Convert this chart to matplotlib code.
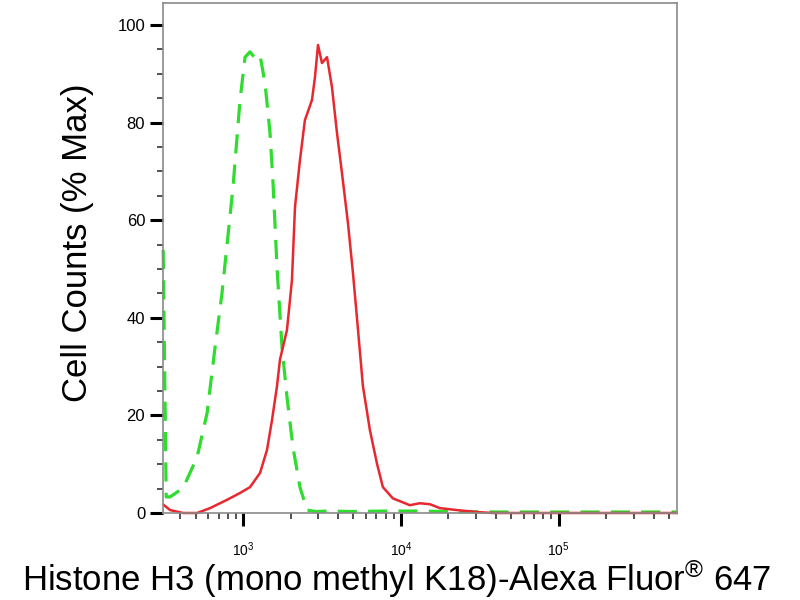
import matplotlib.pyplot as plt
import numpy as np
from matplotlib.ticker import FixedLocator, MultipleLocator, NullFormatter

plt.rcParams['font.family'] = ['Liberation Sans', 'DejaVu Sans']

# isotype control (green, dashed)
ctrl_x = [312, 326, 345, 417, 512, 592, 665, 736, 792, 864, 957, 1030, 1107,
          1191, 1281, 1378, 1482, 1549, 1641, 1765, 1898, 2071, 2294, 2541,
          2900, 3500, 5000, 8000, 12000, 20000, 40000, 100000, 300000, 560000]
ctrl_y = [53.9, 3.3, 3.3, 5.1, 11.5, 20.5, 34.0, 45.1, 55.0, 66.8, 84.6, 93.4,
          94.5, 93.2, 93.8, 88.1, 77.9, 67.6, 50.4, 34.0, 23.8, 13.5, 5.3, 0.6,
          0.3, 0.4, 0.3, 0.4, 0.4, 0.3, 0.2, 0.2, 0.2, 0.2]

# antibody sample (red, solid)
samp_x = [316, 345, 417, 512, 618, 792, 957, 1107, 1281, 1418, 1527, 1641,
          1715, 1790, 1898, 2041, 2134, 2294, 2466, 2733, 2856, 2985, 3162,
          3404, 3658, 3937, 4233, 4621, 4970, 5269, 5748, 6364, 7047, 7691,
          8896, 11400, 13180, 15270, 17660, 22610, 30230, 38190, 100000, 560000]
samp_y = [1.6, 0.6, 0.0, 0.0, 1.0, 2.7, 4.1, 5.3, 8.2, 12.9, 19.1, 26.0, 31.5,
          34.0, 37.5, 47.7, 62.7, 72.3, 80.5, 84.6, 89.3, 95.9, 92.2, 93.4,
          87.3, 77.9, 69.7, 59.4, 49.2, 40.0, 26.0, 17.0, 10.2, 5.3, 3.0, 1.6,
          2.0, 1.8, 1.0, 0.6, 0.2, 0.0, 0.0, 0.0]

major_x = [1e3, 1e4, 1e5]
major_lbl = [r'$\mathregular{10^{3}}$', r'$\mathregular{10^{4}}$', r'$\mathregular{10^{5}}$']

fig = plt.figure(figsize=(8, 6), dpi=100)
ax = fig.add_axes([0.204, 0.145, 0.642, 0.85])

ax.plot(ctrl_x, ctrl_y, color='#2fdc2f', lw=2.3, dashes=(6, 3.5), clip_on=False)
ax.plot(samp_x, samp_y, color='#e8282e', lw=1.8, clip_on=False)

ax.set_xscale('log')
ax.set_xlim(312, 560000)
ax.set_ylim(0, 104.5)

ax.xaxis.set_major_locator(FixedLocator(major_x))
ax.set_xticklabels(major_lbl, fontsize=10)
minors = [m * d for d in [100, 1000, 10000, 100000] for m in range(2, 10)]
ax.xaxis.set_minor_locator(FixedLocator(minors))
ax.xaxis.set_minor_formatter(NullFormatter())

ax.yaxis.set_major_locator(MultipleLocator(20))
ax.yaxis.set_minor_locator(MultipleLocator(5))
ax.tick_params(axis='y', labelsize=12)
ax.tick_params(axis='x', pad=10)

ax.tick_params(which='major', length=9.5, width=2.2, color='black')
ax.tick_params(which='minor', length=4.5, width=1.2, color='#333333')

for sp in ax.spines.values():
    sp.set_color('#8a8a8a')
    sp.set_linewidth(1.2)

ax.set_ylabel('Cell Counts (% Max)', fontsize=25, labelpad=17)
ax.set_xlabel('Histone H3 (mono methyl K18)-Alexa Fluor$\\mathregular{^{®}}$ 647',
              fontsize=25, labelpad=0)
ax.yaxis.label.set_y(0.53)
ax.xaxis.label.set_x(0.455)

fig.savefig('out.png', dpi=100)
